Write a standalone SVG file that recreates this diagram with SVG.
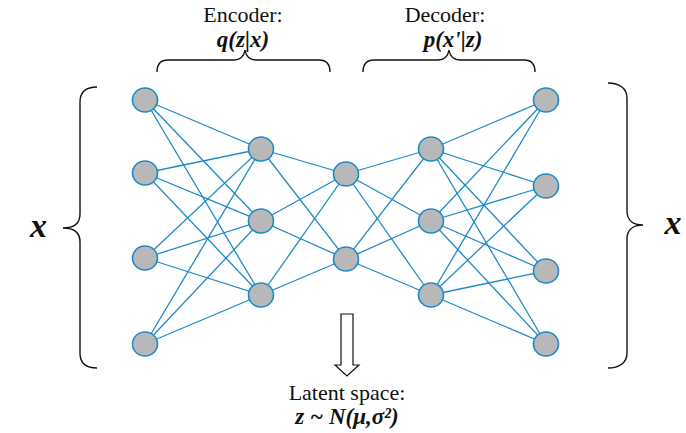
<svg xmlns="http://www.w3.org/2000/svg" width="686" height="433" viewBox="0 0 686 433">
  <style>
    .edge { stroke: #1f8ac8; stroke-width: 1.3; fill: none; }
    .node { fill: #b8b8b8; stroke: #1f8ac8; stroke-width: 1.6; }
    .brace { fill: none; stroke: #111; stroke-width: 1.4; }
    text { fill: #111; text-anchor: middle; }
    .label { font-size: 22px; }
    .math { font-size: 23px; font-weight: bold; font-style: italic; }
    .big { font-size: 34px; font-weight: bold; font-style: italic; }
  </style>

  <!-- fully connected layers -->
  <g id="connectors">
    <!-- input -> hidden 1 -->
    <line class="edge" x1="145" y1="100" x2="261" y2="149"/>
    <line class="edge" x1="145" y1="100" x2="261" y2="221"/>
    <line class="edge" x1="145" y1="100" x2="261" y2="295"/>
    <line class="edge" x1="145" y1="173" x2="261" y2="149"/>
    <line class="edge" x1="145" y1="173" x2="261" y2="221"/>
    <line class="edge" x1="145" y1="173" x2="261" y2="295"/>
    <line class="edge" x1="145" y1="258" x2="261" y2="149"/>
    <line class="edge" x1="145" y1="258" x2="261" y2="221"/>
    <line class="edge" x1="145" y1="258" x2="261" y2="295"/>
    <line class="edge" x1="145" y1="344" x2="261" y2="149"/>
    <line class="edge" x1="145" y1="344" x2="261" y2="221"/>
    <line class="edge" x1="145" y1="344" x2="261" y2="295"/>
    <!-- hidden 1 -> latent -->
    <line class="edge" x1="261" y1="149" x2="346" y2="174"/>
    <line class="edge" x1="261" y1="149" x2="346" y2="259"/>
    <line class="edge" x1="261" y1="221" x2="346" y2="174"/>
    <line class="edge" x1="261" y1="221" x2="346" y2="259"/>
    <line class="edge" x1="261" y1="295" x2="346" y2="174"/>
    <line class="edge" x1="261" y1="295" x2="346" y2="259"/>
    <!-- latent -> hidden 2 -->
    <line class="edge" x1="346" y1="174" x2="431" y2="149"/>
    <line class="edge" x1="346" y1="174" x2="431" y2="221"/>
    <line class="edge" x1="346" y1="174" x2="431" y2="295"/>
    <line class="edge" x1="346" y1="259" x2="431" y2="149"/>
    <line class="edge" x1="346" y1="259" x2="431" y2="221"/>
    <line class="edge" x1="346" y1="259" x2="431" y2="295"/>
    <!-- hidden 2 -> output -->
    <line class="edge" x1="431" y1="149" x2="546" y2="100"/>
    <line class="edge" x1="431" y1="149" x2="546" y2="186"/>
    <line class="edge" x1="431" y1="149" x2="546" y2="271"/>
    <line class="edge" x1="431" y1="149" x2="546" y2="344"/>
    <line class="edge" x1="431" y1="221" x2="546" y2="100"/>
    <line class="edge" x1="431" y1="221" x2="546" y2="186"/>
    <line class="edge" x1="431" y1="221" x2="546" y2="271"/>
    <line class="edge" x1="431" y1="221" x2="546" y2="344"/>
    <line class="edge" x1="431" y1="295" x2="546" y2="100"/>
    <line class="edge" x1="431" y1="295" x2="546" y2="186"/>
    <line class="edge" x1="431" y1="295" x2="546" y2="271"/>
    <line class="edge" x1="431" y1="295" x2="546" y2="344"/>
  </g>

  <!-- input layer -->
  <g id="in1"><ellipse class="node" cx="145" cy="100" rx="12.5" ry="12"/></g>
  <g id="in2"><ellipse class="node" cx="145" cy="173" rx="12.5" ry="12"/></g>
  <g id="in3"><ellipse class="node" cx="145" cy="258" rx="12.5" ry="12"/></g>
  <g id="in4"><ellipse class="node" cx="145" cy="344" rx="12.5" ry="12"/></g>
  <!-- encoder hidden layer -->
  <g id="enc1"><ellipse class="node" cx="261" cy="149" rx="12.5" ry="12"/></g>
  <g id="enc2"><ellipse class="node" cx="261" cy="221" rx="12.5" ry="12"/></g>
  <g id="enc3"><ellipse class="node" cx="261" cy="295" rx="12.5" ry="12"/></g>
  <!-- latent layer -->
  <g id="lat1"><ellipse class="node" cx="346" cy="174" rx="12.5" ry="12"/></g>
  <g id="lat2"><ellipse class="node" cx="346" cy="259" rx="12.5" ry="12"/></g>
  <!-- decoder hidden layer -->
  <g id="dec1"><ellipse class="node" cx="431" cy="149" rx="12.5" ry="12"/></g>
  <g id="dec2"><ellipse class="node" cx="431" cy="221" rx="12.5" ry="12"/></g>
  <g id="dec3"><ellipse class="node" cx="431" cy="295" rx="12.5" ry="12"/></g>
  <!-- output layer -->
  <g id="out1"><ellipse class="node" cx="546" cy="100" rx="12.5" ry="12"/></g>
  <g id="out2"><ellipse class="node" cx="546" cy="186" rx="12.5" ry="12"/></g>
  <g id="out3"><ellipse class="node" cx="546" cy="271" rx="12.5" ry="12"/></g>
  <g id="out4"><ellipse class="node" cx="546" cy="344" rx="12.5" ry="12"/></g>

  <g font-family="Liberation Serif, Times New Roman, serif">
    <!-- encoder label and brace -->
    <g id="encoder-label">
      <text class="label" x="243" y="22">Encoder:</text>
      <text class="math" x="243" y="47">q(z|x)</text>
      <path class="brace" d="M157,72 C157,64 160,60 168,60 L234,60 C241,60 244,56 245,50 C246,56 249,60 256,60 L319,60 C327,60 330,64 330,72"/>
    </g>

    <!-- decoder label and brace -->
    <g id="decoder-label">
      <text class="label" x="445" y="22">Decoder:</text>
      <text class="math" x="453" y="47">p(x'|z)</text>
      <path class="brace" d="M363,72 C363,64 366,60 374,60 L438,60 C445,60 448,56 449,50 C450,56 453,60 460,60 L524,60 C532,60 535,64 535,72"/>
    </g>

    <!-- input brace -->
    <g id="input-label">
      <path class="brace" d="M97,87 C86,87 80,92 80,102 L80,214 C80,223 74,228 63,228 C74,228 80,233 80,242 L80,353 C80,363 86,368 97,368"/>
      <text class="big" x="38.5" y="237">x</text>
    </g>

    <!-- output brace -->
    <g id="output-label">
      <path class="brace" d="M608,83 C619,83 627,88 627,98 L627,211 C627,220 633,225 643,225 C633,225 627,230 627,239 L627,353 C627,363 619,368 608,368"/>
      <text class="big" x="673" y="234">x</text>
    </g>

    <!-- latent space arrow and label -->
    <g id="latent-label">
      <polygon points="341,314 353,314 353,365 359,365 347,376 335,365 341,365" fill="#fff" stroke="#111" stroke-width="1.2"/>
      <text class="label" x="347" y="400">Latent space:</text>
      <text class="math" x="347" y="424">z ~ N(μ,σ²)</text>
    </g>
  </g>
</svg>
